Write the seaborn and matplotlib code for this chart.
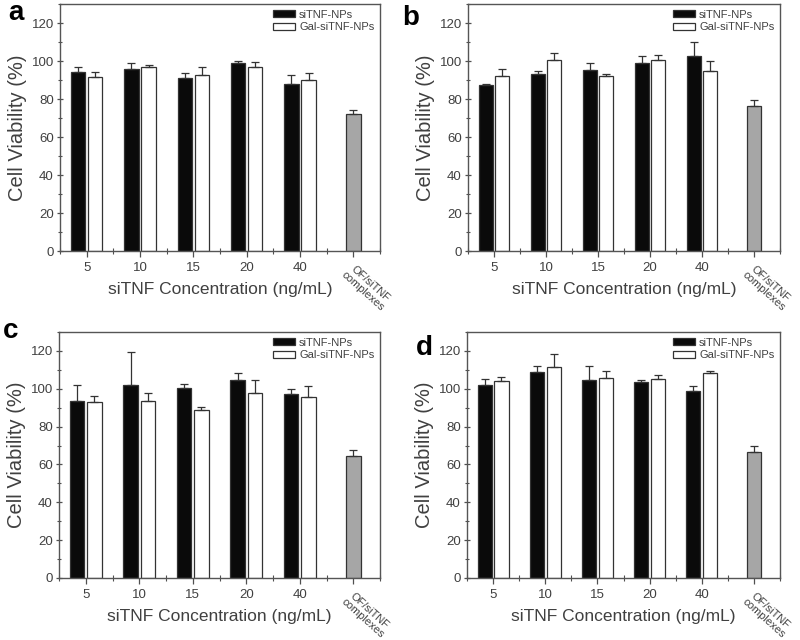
import matplotlib
matplotlib.use("Agg")
import matplotlib.pyplot as plt
from matplotlib.ticker import MultipleLocator, FixedLocator
from matplotlib.container import BarContainer
import seaborn as sns
import pandas as pd
import numpy as np

# ---------------- data ----------------
categories = ["5", "10", "15", "20", "40", "OF/siTNF\ncomplexes"]
series = ["siTNF-NPs", "Gal-siTNF-NPs"]

a_np = [94.2, 95.6, 90.8, 99.1, 87.8]
a_np_err = [2.4, 3.5, 3.0, 1.0, 4.8]
a_gal = [91.7, 96.6, 92.8, 97.0, 89.8]
a_gal_err = [2.5, 1.5, 4.2, 2.6, 4.0]
a_of = 72.0
a_of_err = 2.4

b_np = [87.3, 93.3, 95.1, 99.1, 102.5]
b_np_err = [0.4, 1.4, 3.7, 3.4, 7.4]
b_gal = [92.2, 100.5, 92.2, 100.5, 94.7]
b_gal_err = [3.7, 3.5, 0.9, 2.5, 5.3]
b_of = 76.4
b_of_err = 3.0

c_np = [93.8, 101.8, 100.2, 104.4, 97.4]
c_np_err = [8.0, 17.6, 2.1, 3.7, 2.4]
c_gal = [92.9, 93.5, 88.9, 97.9, 95.4]
c_gal_err = [3.4, 4.4, 1.4, 6.9, 6.0]
c_of = 64.7
c_of_err = 3.0

d_np = [101.9, 109.0, 104.8, 103.7, 98.8]
d_np_err = [3.3, 2.8, 7.0, 0.9, 2.8]
d_gal = [104.2, 111.6, 105.6, 105.3, 108.3]
d_gal_err = [1.9, 6.7, 3.6, 1.9, 1.0]
d_of = 66.6
d_of_err = 3.2

y_ticks = [0, 20, 40, 60, 80, 100, 120]
panel_letters = ["a", "b", "c", "d"]
x_label = "siTNF Concentration (ng/mL)"
y_label = "Cell Viability (%)"

# ---------------- style ----------------
sns.set_theme(style="ticks")
plt.rcParams["font.family"] = ["Liberation Sans", "DejaVu Sans"]
TXT = "#404040"
EDGE = "#333333"
plt.rcParams.update({
    "text.color": TXT, "axes.labelcolor": TXT,
    "xtick.color": "#505050", "ytick.color": "#505050",
    "xtick.labelcolor": TXT, "ytick.labelcolor": TXT,
    "axes.edgecolor": "#555555", "axes.linewidth": 1.0,
})

fig = plt.figure(figsize=(8, 6.4), dpi=100)
W, H = 800, 640
rects = [
    (60, 4, 380, 251),
    (468, 4, 780, 251),
    (59, 332, 380, 578),
    (467, 332, 780, 578),
]
letter_pos = [(8, 20), (402, 25), (3, 338), (416, 355)]

panels = [
    (a_np, a_np_err, a_gal, a_gal_err, a_of, a_of_err),
    (b_np, b_np_err, b_gal, b_gal_err, b_of, b_of_err),
    (c_np, c_np_err, c_gal, c_gal_err, c_of, c_of_err),
    (d_np, d_np_err, d_gal, d_gal_err, d_of, d_of_err),
]

for i, (np_v, np_e, gal_v, gal_e, of_v, of_e) in enumerate(panels):
    l, t, r, b = rects[i]
    ax = fig.add_axes([l / W, 1 - b / H, (r - l) / W, (b - t) / H])

    df = pd.DataFrame({
        "conc": categories[:5] * 2,
        "viab": np_v + gal_v,
        "group": [series[0]] * 5 + [series[1]] * 5,
    })
    sns.barplot(data=df, x="conc", y="viab", hue="group", order=categories,
                hue_order=series, palette=["#0a0a0a", "white"], saturation=1,
                width=0.64, gap=0.15, errorbar=None, legend=False,
                edgecolor=EDGE, linewidth=0.9, ax=ax)
    df_of = pd.DataFrame({"conc": [categories[5]], "viab": [of_v]})
    sns.barplot(data=df_of, x="conc", y="viab", order=categories, color="#a6a6a6",
                saturation=1, width=0.272, errorbar=None,
                edgecolor=EDGE, linewidth=0.9, ax=ax)

    bar_conts = [c for c in ax.containers if isinstance(c, BarContainer)]
    err_lookup = {0: np_e, 1: gal_e}
    for ci, cont in enumerate(bar_conts):
        xs, ys, es = [], [], []
        for bar in cont.patches:
            h = bar.get_height()
            if not np.isfinite(h):
                continue
            cx = bar.get_x() + bar.get_width() / 2
            idx = int(round(cx))
            e = err_lookup[ci][idx] if ci < 2 else of_e
            xs.append(cx); ys.append(h); es.append(e)
        ax.errorbar(xs, ys, yerr=[np.zeros(len(es)), es], fmt="none",
                    ecolor=EDGE, elinewidth=0.9, capsize=3, capthick=0.9, zorder=5)

    ax.set_xlim(-0.5, 5.5)
    ax.set_ylim(0, 130)
    ax.yaxis.set_major_locator(FixedLocator(y_ticks))
    ax.yaxis.set_minor_locator(MultipleLocator(10))
    ax.xaxis.set_minor_locator(FixedLocator(np.arange(-0.5, 6, 1.0)))
    ax.tick_params(axis="y", which="major", direction="inout", length=5, width=0.9,
                   labelsize=9.5, pad=2)
    ax.tick_params(axis="y", which="minor", direction="inout", length=3, width=0.8)
    ax.tick_params(axis="x", which="major", direction="out", length=4, width=0.9,
                   labelsize=9.5, pad=4)
    ax.tick_params(axis="x", which="minor", direction="inout", length=4, width=0.8)
    for sp in ax.spines.values():
        sp.set_visible(True)

    ax.set_xticks(range(len(categories)))
    ax.set_xticklabels(categories)
    for lab in ax.get_xticklabels():
        if "\n" in lab.get_text():
            lab.set_rotation(-42)
            lab.set_rotation_mode("anchor")
            lab.set_ha("left")
            lab.set_va("top")
            lab.set_multialignment("center")
            lab.set_linespacing(1.0)
            lab.set_fontsize(8)

    ax.set_xlabel(x_label, fontsize=12.5)
    ax.xaxis.set_label_coords(0.5, -0.125)
    ax.set_ylabel(y_label, fontsize=14.5, labelpad=3)

    handles = [bar_conts[0].patches[0], bar_conts[1].patches[0]]
    ax.legend(handles=handles, labels=series, loc="upper right",
              bbox_to_anchor=(1.0, 1.0), frameon=False, fontsize=8,
              handlelength=2.0, handleheight=0.5, handletextpad=0.4,
              labelspacing=0.25, borderaxespad=0.3, borderpad=0.2)

    lx, ly = letter_pos[i]
    fig.text(lx / W, 1 - ly / H, panel_letters[i], fontsize=20, fontweight="bold",
             color="black", ha="left", va="baseline")

fig.savefig("out.png", dpi=100, facecolor="white")
